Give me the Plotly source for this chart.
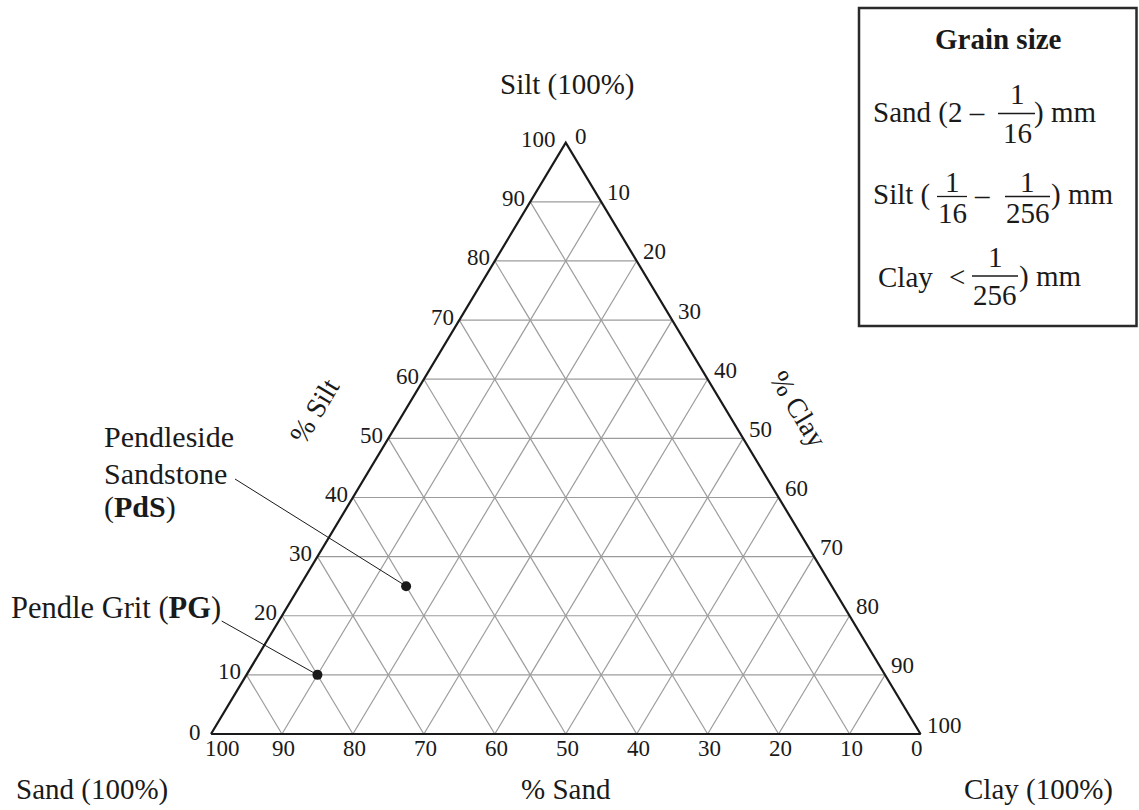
import plotly.graph_objects as go

W, H = 1139, 810

# Sample compositions (percent sand / silt / clay)
sample_names = ["Pendle Grit", "Pendleside Sandstone"]
sample_codes = ["PG", "PdS"]
sand_pct = [80, 60]
silt_pct = [10, 25]
clay_pct = [10, 15]

# Grid and tick values along each side
grid_steps = [10, 20, 30, 40, 50, 60, 70, 80, 90]
tick_values = [0, 10, 20, 30, 40, 50, 60, 70, 80, 90, 100]
tick_labels = [str(v) for v in tick_values]

FONT = "Liberation Serif, Times New Roman, serif"
INK = "#1a1a1a"

# Triangle corners in figure pixels: base from left to right, apex on top
LEFT_PX, RIGHT_PX = 211.0, 920.5
BASE_PX, APEX_PX = 734.0, 142.7
sx = (RIGHT_PX - LEFT_PX) / 100.0
sy = (BASE_PX - APEX_PX) / 100.0
x_range = [-LEFT_PX / sx, (W - LEFT_PX) / sx]
y_range = [(BASE_PX - H) / sy, BASE_PX / sy]


def tern_xy(sand, silt, clay):
    """Project a sand/silt/clay composition onto the plane of the diagram."""
    total = sand + silt + clay
    return 100.0 * (clay + silt / 2.0) / total, 100.0 * silt / total


def px_to_data(px, py):
    return (px - LEFT_PX) / sx, (BASE_PX - py) / sy


def paper(px, py):
    return px / W, 1 - py / H


fig = go.Figure()

# Grid lines of constant silt, sand and clay
gx, gy = [], []
for k in grid_steps:
    for a, b in [((100 - k, k, 0), (0, k, 100 - k)),
                 ((k, 100 - k, 0), (k, 0, 100 - k)),
                 ((100 - k, 0, k), (0, 100 - k, k))]:
        x1, y1 = tern_xy(*a)
        x2, y2 = tern_xy(*b)
        gx += [x1, x2, None]
        gy += [y1, y2, None]
fig.add_trace(go.Scatter(x=gx, y=gy, mode="lines",
                         line=dict(color="#9c9c9c", width=1.2),
                         hoverinfo="skip", showlegend=False))

# Triangle outline
corners = [(100, 0, 0), (0, 100, 0), (0, 0, 100), (100, 0, 0)]
tx = [tern_xy(*c)[0] for c in corners]
ty = [tern_xy(*c)[1] for c in corners]
fig.add_trace(go.Scatter(x=tx, y=ty, mode="lines",
                         line=dict(color=INK, width=2.2),
                         hoverinfo="skip", showlegend=False))

# Samples
pts = [tern_xy(s, si, c) for s, si, c in zip(sand_pct, silt_pct, clay_pct)]
fig.add_trace(go.Scatter(x=[p[0] for p in pts], y=[p[1] for p in pts],
                         mode="markers", marker=dict(color=INK, size=10),
                         text=sample_names, hoverinfo="text",
                         showlegend=False, cliponaxis=False))

annotations = []
shapes = []


def ann_px(text, px, py, size=29, xanchor="center", angle=0):
    x, y = paper(px, py)
    annotations.append(dict(text=text, x=x, y=y, xref="paper", yref="paper",
                            xanchor=xanchor, yanchor="middle", showarrow=False,
                            textangle=angle, borderpad=0,
                            font=dict(family=FONT, size=size, color=INK)))


def ann_data(text, x, y, xanchor, dx, dy, size=23):
    annotations.append(dict(text=text, x=x, y=y, xref="x", yref="y",
                            xanchor=xanchor, yanchor="middle", showarrow=False,
                            xshift=dx, yshift=dy, borderpad=0,
                            font=dict(family=FONT, size=size, color=INK)))


# Tick labels on the three sides
for v, lab in zip(tick_values, tick_labels):
    # % silt on the left side
    x, y = tern_xy(100 - v, v, 0)
    dx = -9 if v in (0, 100) else -4
    ann_data(lab, x, y, "right", dx, 3 if v else 2)
    # % sand along the base
    x, y = tern_xy(v, 0, 100 - v)
    dx = 11 if v == 100 else (-4 if v == 0 else 1.5)
    ann_data(lab, x, y, "center", dx, -14)
    # % clay on the right side
    x, y = tern_xy(0, 100 - v, v)
    ann_data(lab, x, y, "left", 8 if v == 0 else 5, 6 if v == 0 else 9)

# Corner and side titles
ann_px("Silt (100%)", 567, 84.5)
ann_px("Sand (100%)", 92, 789)
ann_px("Clay (100%)", 1038, 789)
ann_px("% Sand", 566, 789)
ann_px("% Silt", 314, 411.5, size=28, angle=-59)
ann_px("% Clay", 798, 408.5, size=28, angle=59)

# Sample labels with leader lines
ann_px("Pendle Grit (<b>PG</b>)", 10, 608, size=30.5, xanchor="left")
ann_px("Pendleside", 103, 436.6, size=30, xanchor="left")
ann_px("Sandstone", 103, 473, size=30, xanchor="left")
ann_px("(<b>PdS</b>)", 103, 506.6, size=30, xanchor="left")

label_ends = [(221.7, 621.0), (235.0, 479.0)]
for (lx, ly), (px_, py_) in zip(label_ends, pts):
    x0, y0 = px_to_data(lx, ly)
    shapes.append(dict(type="line", xref="x", yref="y", x0=x0, y0=y0,
                       x1=px_, y1=py_, line=dict(color=INK, width=1)))

# Grain size key
x0, y0 = paper(859, 8)
x1, y1 = paper(1136.5, 326)
shapes.append(dict(type="rect", xref="paper", yref="paper",
                   x0=x0, y0=y1, x1=x1, y1=y0,
                   line=dict(color="#2a2a2a", width=2.5), fillcolor="white"))
ann_px("<b>Grain size</b>", 998, 39, size=29)


def fraction(num, den, cx, bx0, bx1, by, ny, dy):
    ann_px(num, cx, ny, size=29)
    ann_px(den, cx, dy, size=29)
    a0, b0 = paper(bx0, by)
    a1, _ = paper(bx1, by)
    shapes.append(dict(type="line", xref="paper", yref="paper",
                       x0=a0, y0=b0, x1=a1, y1=b0,
                       line=dict(color=INK, width=1.3)))


# Sand row
ann_px("Sand (2 \u2013", 872, 112, xanchor="left")
fraction("1", "16", 1017, 998, 1035, 113.5, 93.5, 133.5)
ann_px(") mm", 1033, 112, xanchor="left")
# Silt row
ann_px("Silt (", 872, 195, xanchor="left")
fraction("1", "16", 952, 937, 967, 196.5, 182, 213.5)
ann_px("\u2013", 982, 195)
fraction("1", "256", 1027.5, 1005, 1050, 196.5, 182, 213.5)
ann_px(") mm", 1050, 195, xanchor="left")
# Clay row
ann_px("Clay", 905, 277)
ann_px("<", 957, 277)
fraction("1", "256", 995, 972, 1018, 276, 257, 295)
ann_px(") mm", 1018, 277, xanchor="left")

fig.update_layout(
    width=W, height=H, autosize=False,
    margin=dict(l=0, r=0, t=0, b=0, pad=0),
    paper_bgcolor="white", plot_bgcolor="white",
    xaxis=dict(range=x_range, visible=False, fixedrange=True),
    yaxis=dict(range=y_range, visible=False, fixedrange=True),
    annotations=annotations, shapes=shapes,
    showlegend=False,
)

fig.write_html("out.html")
